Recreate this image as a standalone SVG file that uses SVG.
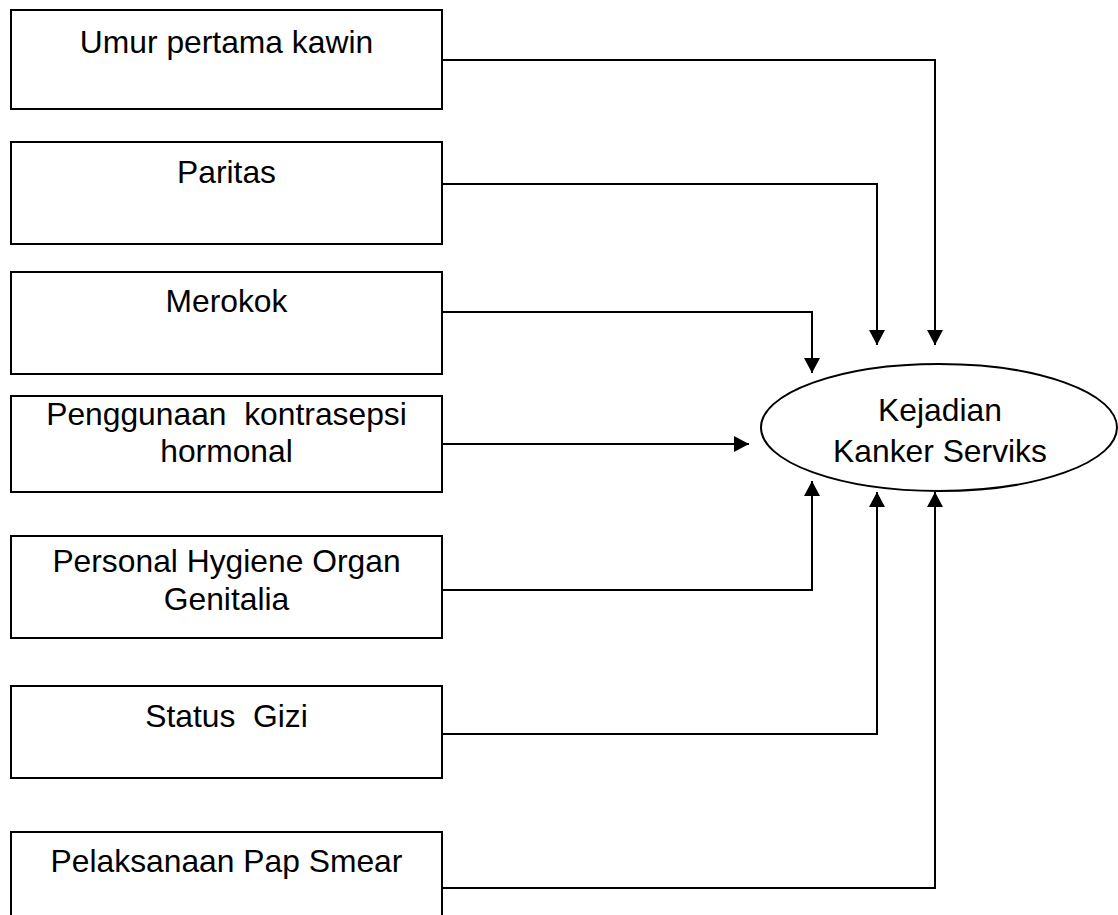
<svg xmlns="http://www.w3.org/2000/svg" width="1118" height="915" viewBox="0 0 1118 915">
<style>
.box{fill:#fff;stroke:#000;stroke-width:2}
.lbl{font-family:"Liberation Sans",Arial,sans-serif;font-size:31.8px;fill:#000;text-anchor:middle}
.con{fill:none;stroke:#000;stroke-width:2;marker-end:url(#arr)}
</style>
<defs>
<marker id="arr" markerUnits="userSpaceOnUse" markerWidth="16" markerHeight="16" refX="15" refY="8" orient="auto">
<path d="M0,0 L15,8 L0,16 z" fill="#000"/>
</marker>
</defs>
<rect width="1118" height="915" fill="#fff"/>
<g id="connectors">
<path class="con" d="M442,60 H935 V345"/>
<path class="con" d="M442,184 H877 V345"/>
<path class="con" d="M442,312 H812 V373"/>
<path class="con" d="M442,444 H749"/>
<path class="con" d="M442,590 H812 V481"/>
<path class="con" d="M442,734 H877 V492"/>
<path class="con" d="M442,888 H935 V492"/>
</g>
<g id="n1"><rect class="box" x="11" y="10" width="431" height="99"/><text class="lbl" x="226.5" y="53">Umur pertama kawin</text></g>
<g id="n2"><rect class="box" x="11" y="142" width="431" height="102"/><text class="lbl" x="226.5" y="183">Paritas</text></g>
<g id="n3"><rect class="box" x="11" y="272" width="431" height="102"/><text class="lbl" x="226.5" y="312">Merokok</text></g>
<g id="n4"><rect class="box" x="11" y="396" width="431" height="96"/><text class="lbl" x="226.5" y="425" xml:space="preserve">Penggunaan  kontrasepsi</text><text class="lbl" x="226.5" y="462">hormonal</text></g>
<g id="n5"><rect class="box" x="11" y="536" width="431" height="102"/><text class="lbl" x="226.5" y="572">Personal Hygiene Organ</text><text class="lbl" x="226.5" y="610">Genitalia</text></g>
<g id="n6"><rect class="box" x="11" y="686" width="431" height="92"/><text class="lbl" x="226.5" y="727" xml:space="preserve">Status  Gizi</text></g>
<g id="n7"><rect class="box" x="11" y="832" width="431" height="100"/><text class="lbl" x="226.5" y="872">Pelaksanaan Pap Smear</text></g>
<g id="target"><ellipse cx="939" cy="427.5" rx="178" ry="63.5" fill="#fff" stroke="#000" stroke-width="2"/><text class="lbl" x="940" y="421">Kejadian</text><text class="lbl" x="940" y="462">Kanker Serviks</text></g>
</svg>
